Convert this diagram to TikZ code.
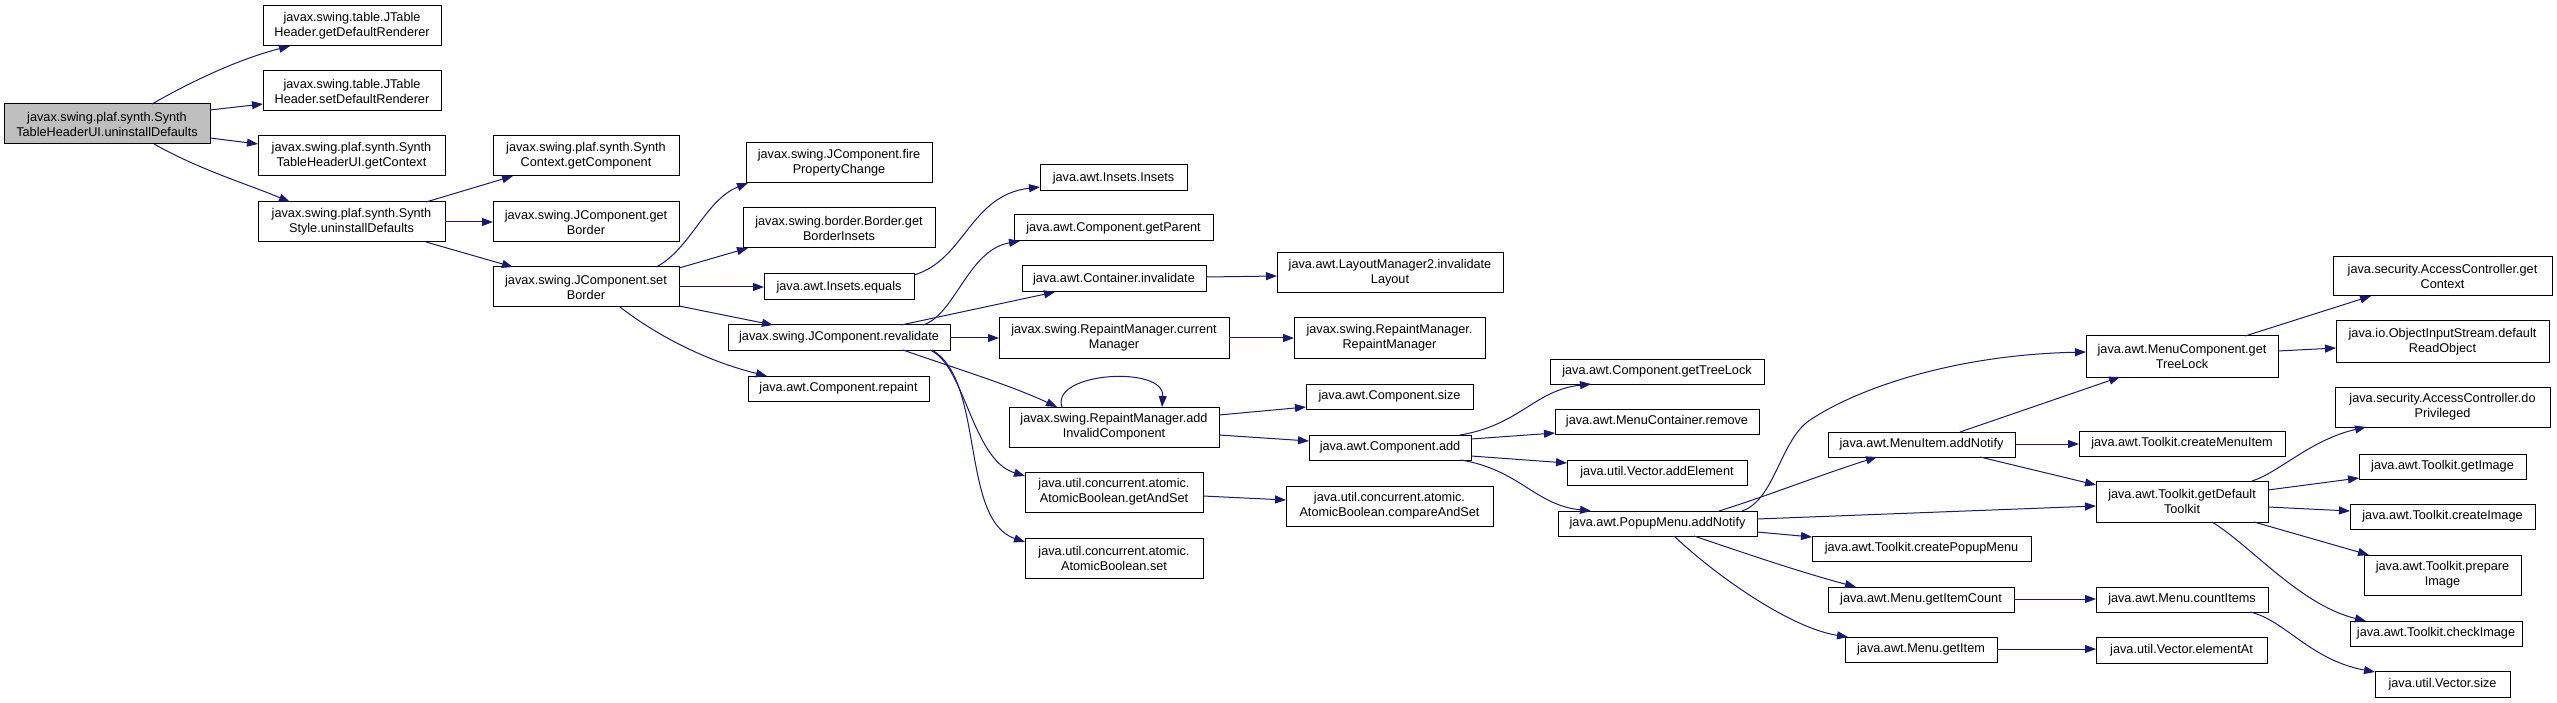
\documentclass[tikz,border=0pt]{standalone}
\usepackage{fontspec}
\setmainfont{Liberation Sans}
\usetikzlibrary{arrows.meta}
\definecolor{edgec}{RGB}{25,25,112}
\definecolor{rootfill}{RGB}{191,191,191}
\newcommand{\nd}[7][white]{\node[box, fill=#1, minimum width=#5pt-#3pt, minimum height=#6pt-#4pt] (#2) at ({(#3+#5)/2},{(#4+#6)/2}) {#7};}
\begin{document}
\begin{tikzpicture}[x=1pt,y=-1pt,
  box/.style={draw=black, line width=1pt, inner sep=0pt, outer sep=0pt, align=center, font=\fontsize{12.7}{15}\selectfont},
  e/.style={draw=edgec, line width=1pt, -{Triangle[length=11pt,width=8pt]}}]
\fill[white] (0,0) rectangle (2557,703);
\useasboundingbox (0,0) rectangle (2557,703);
% nodes
\nd[rootfill]{root}{4}{104}{210}{144}{javax.swing.plaf.synth.Synth\\TableHeaderUI.uninstallDefaults}
\nd{getDR}{263}{6}{441}{46}{javax.swing.table.JTable\\Header.getDefaultRenderer}
\nd{setDR}{263}{71}{441}{111}{javax.swing.table.JTable\\Header.setDefaultRenderer}
\nd{getCtx}{258}{136}{445}{176}{javax.swing.plaf.synth.Synth\\TableHeaderUI.getContext}
\nd{sStyle}{258}{202}{445}{242}{javax.swing.plaf.synth.Synth\\Style.uninstallDefaults}
\nd{sCtxComp}{493}{136}{679}{176}{javax.swing.plaf.synth.Synth\\Context.getComponent}
\nd{getBorder}{493}{202}{679}{242}{javax.swing.JComponent.get\\Border}
\nd{setBorder}{493}{267}{679}{307}{javax.swing.JComponent.set\\Border}
\nd{fireProp}{746}{143}{932}{183}{javax.swing.JComponent.fire\\PropertyChange}
\nd{getBInsets}{743}{208}{935}{248}{javax.swing.border.Border.get\\BorderInsets}
\nd{insEq}{764}{274}{914}{300}{java.awt.Insets.equals}
\nd{revalidate}{728}{325}{950}{350}{javax.swing.JComponent.revalidate}
\nd{repaint}{748}{376}{929}{401}{java.awt.Component.repaint}
\nd{insIns}{1040}{165}{1187}{191}{java.awt.Insets.Insets}
\nd{getParent}{1014}{215}{1213}{241}{java.awt.Component.getParent}
\nd{contInv}{1022}{266}{1206}{292}{java.awt.Container.invalidate}
\nd{curMgr}{999}{318}{1229}{358}{javax.swing.RepaintManager.current\\Manager}
\nd{addInv}{1009}{407}{1219}{447}{javax.swing.RepaintManager.add\\InvalidComponent}
\nd{getAndSet}{1025}{472}{1203}{512}{java.util.concurrent.atomic.\\AtomicBoolean.getAndSet}
\nd{abSet}{1025}{538}{1203}{578}{java.util.concurrent.atomic.\\AtomicBoolean.set}
\nd{layoutInv}{1277}{253}{1503}{293}{java.awt.LayoutManager2.invalidate\\Layout}
\nd{rmRm}{1294}{318}{1485}{358}{javax.swing.RepaintManager.\\RepaintManager}
\nd{compSize}{1306}{384}{1473}{409}{java.awt.Component.size}
\nd{compAdd}{1309}{435}{1471}{460}{java.awt.Component.add}
\nd{casSet}{1286}{486}{1493}{526}{java.util.concurrent.atomic.\\AtomicBoolean.compareAndSet}
\nd{compTree}{1550}{359}{1764}{384}{java.awt.Component.getTreeLock}
\nd{mcRemove}{1555}{409}{1759}{434}{java.awt.MenuContainer.remove}
\nd{vecAdd}{1567}{460}{1747}{485}{java.util.Vector.addElement}
\nd{popup}{1558}{511}{1757}{536}{java.awt.PopupMenu.addNotify}
\nd{miAdd}{1828}{432}{2015}{457}{java.awt.MenuItem.addNotify}
\nd{createPopup}{1812}{536}{2031}{561}{java.awt.Toolkit.createPopupMenu}
\nd{getItemCount}{1828}{587}{2014}{612}{java.awt.Menu.getItemCount}
\nd{getItem}{1845}{637}{1997}{662}{java.awt.Menu.getItem}
\nd{mcTree}{2086}{336}{2278}{377}{java.awt.MenuComponent.get\\TreeLock}
\nd{createMI}{2079}{431}{2285}{456}{java.awt.Toolkit.createMenuItem}
\nd{defTk}{2096}{481}{2268}{522}{java.awt.Toolkit.getDefault\\Toolkit}
\nd{countItems}{2096}{587}{2268}{612}{java.awt.Menu.countItems}
\nd{elementAt}{2096}{637}{2267}{663}{java.util.Vector.elementAt}
\nd{acGet}{2333}{257}{2552}{296}{java.security.AccessController.get\\Context}
\nd{oisRead}{2336}{321}{2549}{362}{java.io.ObjectInputStream.default\\ReadObject}
\nd{acPriv}{2335}{387}{2550}{427}{java.security.AccessController.do\\Privileged}
\nd{getImage}{2359}{454}{2526}{479}{java.awt.Toolkit.getImage}
\nd{createImage}{2350}{504}{2535}{529}{java.awt.Toolkit.createImage}
\nd{prepImage}{2364}{555}{2521}{595}{java.awt.Toolkit.prepare\\Image}
\nd{checkImage}{2350}{621}{2522}{646}{java.awt.Toolkit.checkImage}
\nd{vecSize}{2375}{671}{2510}{697}{java.util.Vector.size}
% edges
\draw[e] ([shift={(148,0)}]root.north west) .. controls (185,85) and (235,60) .. ([shift={(27,40)}]getDR.north west);
\draw[e] ([shift={(206,6)}]root.north west) -- ([shift={(0,33)}]setDR.north west);
\draw[e] ([shift={(206,34)}]root.north west) -- ([shift={(0,8)}]getCtx.north west);
\draw[e] ([shift={(150,40)}]root.north west) .. controls (200,170) and (250,185) .. ([shift={(32,0)}]sStyle.north west);
\draw[e] ([shift={(168,0)}]sStyle.north west) -- ([shift={(20,40)}]sCtxComp.north west);
\draw[e] ([shift={(187,20)}]sStyle.north west) -- ([shift={(0,20)}]getBorder.north west);
\draw[e] ([shift={(168,40)}]sStyle.north west) -- ([shift={(20,0)}]setBorder.north west);
\draw[e] ([shift={(163,0)}]setBorder.north west) .. controls (690,250) and (705,200) .. ([shift={(2,40)}]fireProp.north west);
\draw[e] ([shift={(186,1)}]setBorder.north west) -- ([shift={(5,40)}]getBInsets.north west);
\draw[e] ([shift={(186,20)}]setBorder.north west) -- ([shift={(0,13)}]insEq.north west);
\draw[e] ([shift={(186,39)}]setBorder.north west) -- ([shift={(45,0)}]revalidate.north west);
\draw[e] ([shift={(127,40)}]setBorder.north west) .. controls (660,338) and (710,362) .. ([shift={(19,0)}]repaint.north west);
\draw[e] ([shift={(150,1)}]insEq.north west) .. controls (965,260) and (970,195) .. ([shift={(0,22)}]insIns.north west);
\draw[e] ([shift={(195,0)}]revalidate.north west) .. controls (955,315) and (968,250) .. ([shift={(6,26)}]getParent.north west);
\draw[e] ([shift={(173,0)}]revalidate.north west) -- ([shift={(33,26)}]contInv.north west);
\draw[e] ([shift={(222,13)}]revalidate.north west) -- ([shift={(0,20)}]curMgr.north west);
\draw[e] ([shift={(175,25)}]revalidate.north west) .. controls (960,370) and (1010,385) .. ([shift={(48,0)}]addInv.north west);
\draw[e] ([shift={(202,25)}]revalidate.north west) .. controls (965,365) and (972,460) .. ([shift={(0,4)}]getAndSet.north west);
\draw[e] ([shift={(204,25)}]revalidate.north west) .. controls (985,380) and (960,520) .. ([shift={(0,4)}]abSet.north west);
\draw[e] ([shift={(230,20)}]curMgr.north west) -- ([shift={(0,20)}]rmRm.north west);
\draw[e] ([shift={(184,11)}]contInv.north west) -- ([shift={(0,23)}]layoutInv.north west);
\draw[e] ([shift={(53,0)}]addInv.north west) .. controls (1050,372) and (1165,365) .. ([shift={(153,0)}]addInv.north west);
\draw[e] ([shift={(210,8)}]addInv.north west) -- ([shift={(0,23)}]compSize.north west);
\draw[e] ([shift={(210,28)}]addInv.north west) -- ([shift={(0,6)}]compAdd.north west);
\draw[e] ([shift={(178,24)}]getAndSet.north west) -- ([shift={(0,14)}]casSet.north west);
\draw[e] ([shift={(151,0)}]compAdd.north west) .. controls (1520,425) and (1535,390) .. ([shift={(41,25)}]compTree.north west);
\draw[e] ([shift={(162,4)}]compAdd.north west) -- ([shift={(0,24)}]mcRemove.north west);
\draw[e] ([shift={(162,21)}]compAdd.north west) -- ([shift={(0,3)}]vecAdd.north west);
\draw[e] ([shift={(152,25)}]compAdd.north west) .. controls (1520,470) and (1535,505) .. ([shift={(33,0)}]popup.north west);
\draw[e] ([shift={(184,0)}]popup.north west) .. controls (1775,500) and (1780,440) .. (1810,420) .. controls (1855,390) and (1950,355) .. ([shift={(0,16)}]mcTree.north west);
\draw[e] ([shift={(161,0)}]popup.north west) .. controls (1770,495) and (1820,475) .. ([shift={(49,25)}]miAdd.north west);
\draw[e] ([shift={(199,8)}]popup.north west) -- ([shift={(0,25)}]defTk.north west);
\draw[e] ([shift={(199,21)}]popup.north west) -- ([shift={(0,1)}]createPopup.north west);
\draw[e] ([shift={(136,25)}]popup.north west) .. controls (1750,555) and (1800,572) .. ([shift={(28,0)}]getItemCount.north west);
\draw[e] ([shift={(116,25)}]popup.north west) .. controls (1715,575) and (1790,628) .. ([shift={(3,0)}]getItem.north west);
\draw[e] ([shift={(132,0)}]miAdd.north west) -- ([shift={(34,41)}]mcTree.north west);
\draw[e] ([shift={(187,12)}]miAdd.north west) -- ([shift={(0,13)}]createMI.north west);
\draw[e] ([shift={(152,25)}]miAdd.north west) -- ([shift={(0,4)}]defTk.north west);
\draw[e] ([shift={(159,0)}]mcTree.north west) -- ([shift={(38,39)}]acGet.north west);
\draw[e] ([shift={(192,15)}]mcTree.north west) -- ([shift={(0,27)}]oisRead.north west);
\draw[e] ([shift={(156,0)}]defTk.north west) .. controls (2280,472) and (2310,440) .. ([shift={(31,40)}]acPriv.north west);
\draw[e] ([shift={(172,9)}]defTk.north west) -- ([shift={(0,24)}]getImage.north west);
\draw[e] ([shift={(172,26)}]defTk.north west) -- ([shift={(0,7)}]createImage.north west);
\draw[e] ([shift={(158,41)}]defTk.north west) -- ([shift={(5,0)}]prepImage.north west);
\draw[e] ([shift={(116,41)}]defTk.north west) .. controls (2250,545) and (2300,605) .. ([shift={(16,0)}]checkImage.north west);
\draw[e] ([shift={(186,12)}]getItemCount.north west) -- ([shift={(0,12)}]countItems.north west);
\draw[e] ([shift={(152,12)}]getItem.north west) -- ([shift={(0,12)}]elementAt.north west);
\draw[e] ([shift={(154,25)}]countItems.north west) .. controls (2285,620) and (2310,660) .. ([shift={(0,1)}]vecSize.north west);
\end{tikzpicture}
\end{document}
